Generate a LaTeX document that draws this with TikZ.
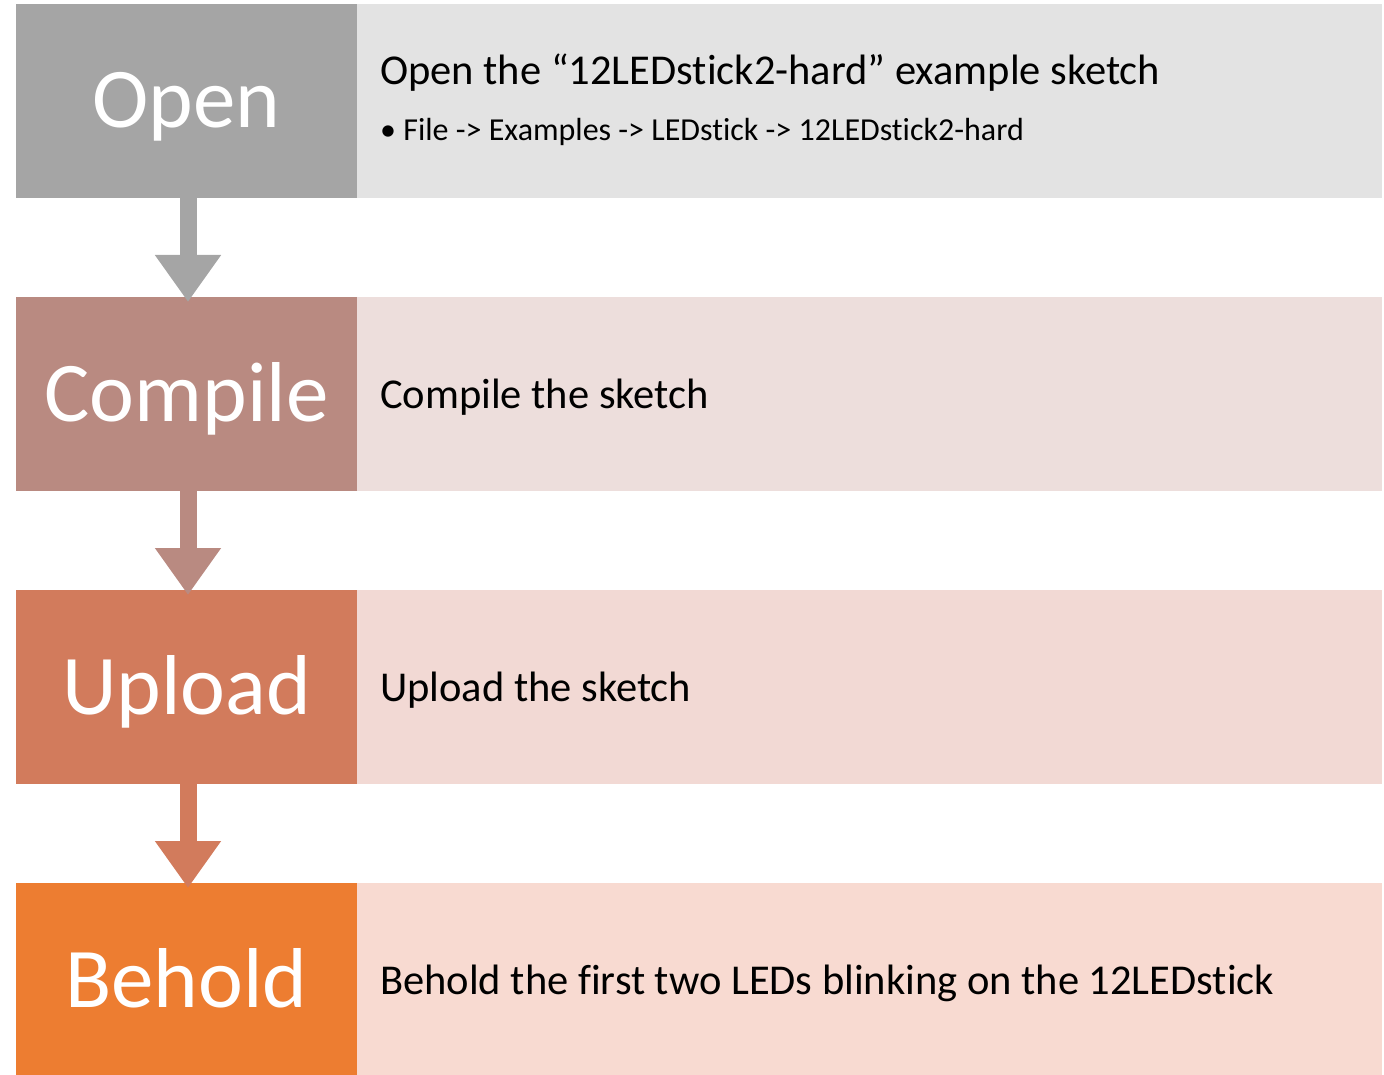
\documentclass[tikz,border=0pt]{standalone}
\usepackage{fontspec}
\setmainfont[Ligatures=NoCommon]{Carlito}
\usetikzlibrary{arrows.meta,calc}

\definecolor{openDark}{RGB}{165,165,165}
\definecolor{openLight}{RGB}{227,227,227}
\definecolor{compDark}{RGB}{185,138,129}
\definecolor{compLight}{RGB}{237,222,220}
\definecolor{upDark}{RGB}{210,123,92}
\definecolor{upLight}{RGB}{242,217,212}
\definecolor{beDark}{RGB}{237,125,49}
\definecolor{beLight}{RGB}{248,218,209}

\tikzset{
  stepname/.style={anchor=north west, minimum width=341pt, minimum height=194pt,
    inner sep=0pt, outer sep=0pt, draw=none},
  stepinfo/.style={anchor=north west, minimum width=1025pt, minimum height=194pt,
    inner sep=0pt, outer sep=0pt, draw=none},
  biglabel/.style={anchor=base, text=white, inner sep=0pt,
    font=\fontsize{85}{85}\selectfont},
  infotext/.style={anchor=base west, text=black, inner sep=0pt,
    font=\fontsize{42.5}{42.5}\selectfont},
  subtext/.style={anchor=base west, text=black, inner sep=0pt,
    font=\fontsize{32}{32}\selectfont},
  flow/.style={line width=17pt, -{Triangle[width=63pt,length=47pt]}}
}

\begin{document}
\begin{tikzpicture}[x=1pt,y=-1pt]
\useasboundingbox (0,0) rectangle (1384,1075);

% step boxes
\node[stepname, fill=openDark] (open) at (16,4) {};
\node[stepinfo, fill=openLight] (openinfo) at (357,4) {};
\node[stepname, fill=compDark] (comp) at (16,297) {};
\node[stepinfo, fill=compLight] (compinfo) at (357,297) {};
\node[stepname, fill=upDark] (up) at (16,590) {};
\node[stepinfo, fill=upLight] (upinfo) at (357,590) {};
\node[stepname, fill=beDark] (be) at (16,883) {};
\node[stepinfo, fill=beLight] (beinfo) at (357,883) {};

% step names
\node[biglabel] (openlbl) at (186.5,128) {Open};
\node[biglabel] (complbl) at (186.5,421) {Compile};
\node[biglabel] (uplbl) at (186.5,714) {Upload};
\node[biglabel] (belbl) at (186.5,1007) {Behold};

% descriptions
\node[infotext] (opentxt) at (380,85) {Open the “12LEDstick2-hard” example sketch};
\node[subtext] (opensub) at (380,141) {\textbullet\ File -> Examples -> LEDstick -> 12LEDstick2-hard};
\node[infotext] (comptxt) at (380,408) {Compile the sketch};
\node[infotext] (uptxt) at (380,701) {Upload the sketch};
\node[infotext] (betxt) at (380,994) {Behold the first two LEDs blinking on the 12LEDstick};

% flow arrows
\draw[flow, draw=openDark, fill=openDark] ($(open.south)+(1.5,0)$) -- ($(comp.north)+(1.5,5)$);
\draw[flow, draw=compDark, fill=compDark] ($(comp.south)+(1.5,0)$) -- ($(up.north)+(1.5,5)$);
\draw[flow, draw=upDark, fill=upDark] ($(up.south)+(1.5,0)$) -- ($(be.north)+(1.5,5)$);
\end{tikzpicture}
\end{document}
